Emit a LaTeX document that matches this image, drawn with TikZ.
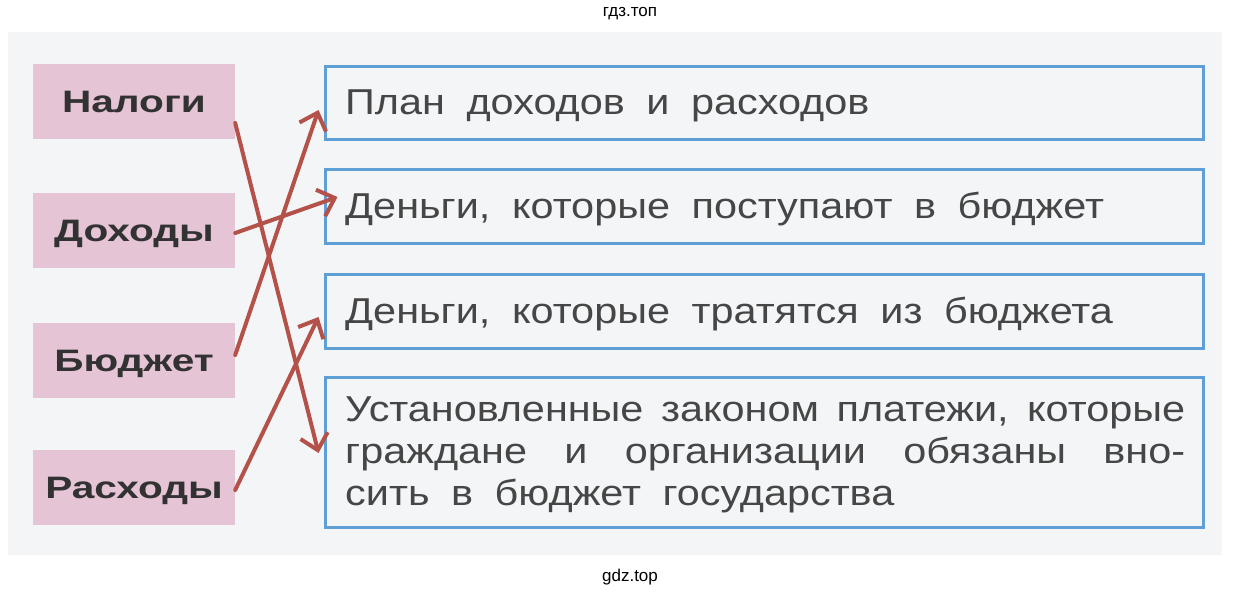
\documentclass[tikz,border=0pt]{standalone}
\usepackage{fontspec}
\setmainfont{Liberation Sans}
\newfontfamily\boxfont[FakeStretch=1.15]{Liberation Sans}
\newfontfamily\tagfont[FakeStretch=1.31]{Liberation Sans}
\newcommand\mywidesp{\spaceskip=0.6em plus 0.5em minus 0.3em\relax}
\usetikzlibrary{arrows.meta}
\definecolor{bgphoto}{RGB}{243,245,247}
\definecolor{pinkc}{RGB}{229,196,214}
\definecolor{tagtext}{RGB}{50,50,50}
\definecolor{blueb}{RGB}{96,158,214}
\definecolor{deftextc}{RGB}{70,70,70}
\definecolor{arrowc}{RGB}{180,82,74}
\begin{document}
\begin{tikzpicture}[x=1pt,y=-1pt,
  tagbox/.style={fill=pinkc, minimum width=202pt, minimum height=75pt, inner sep=0pt,
    text height=22pt, text depth=0pt,
    font=\tagfont\bfseries\fontsize{31}{36}\selectfont, text=tagtext},
  defbox/.style={draw=blueb, line width=3pt, minimum width=878pt, inner sep=0pt},
  deftext/.style={anchor=base west, inner sep=0pt, text=deftextc,
    font=\boxfont\fontsize{36}{40}\selectfont\mywidesp},
  wm/.style={font=\fontsize{17}{20}\selectfont, text=black, inner sep=0pt},
  link/.style={draw=arrowc, line width=4pt, line cap=round,
    -{Straight Barb[length=15pt,width=28pt]}}
]
\useasboundingbox (0,0) rectangle (1260,597);
\fill[white] (0,0) rectangle (1260,597);
\fill[bgphoto] (8,32) rectangle (1222,555);

\node[wm] (wtop) at (630,14) {гдз.топ};
\node[wm] (wbot) at (630,577) {gdz.top};

\node[tagbox] (nalogi) at (134,101.5) {Налоги};
\node[tagbox] (dohody) at (134,230.5) {Доходы};
\node[tagbox] (budget) at (134,360) {Бюджет};
\node[tagbox] (rashody) at (134,487.5) {Расходы};

\node[defbox, minimum height=73pt] (b1) at (764,102.5) {};
\node[defbox, minimum height=74pt] (b2) at (764,206) {};
\node[defbox, minimum height=74pt] (b3) at (764,311) {};
\node[defbox, minimum height=150pt] (b4) at (764,452) {};

\node[deftext] (t1) at (345,114.5) {План доходов и расходов};
\node[deftext] (t2) at (345,218.5) {Деньги, которые поступают в бюджет};
\node[deftext] (t3) at (345,323.5) {Деньги, которые тратятся из бюджета};
\node[deftext] (t4a) at (345,421) {\makebox[840pt][s]{Установленные законом платежи, которые}};
\node[deftext] (t4b) at (345,463) {\makebox[840pt][s]{граждане и организации обязаны вно-}};
\node[deftext] (t4c) at (345,505) {сить в бюджет государства};

\draw[link] ([yshift=-21.5pt]nalogi.east) -- ([xshift=-5pt,yshift=-1pt]b4.west);
\draw[link] ([yshift=-2.5pt]dohody.east) -- ([xshift=14pt,yshift=9pt]b2.west);
\draw[link] ([yshift=5pt]budget.east) -- ([xshift=-5pt,yshift=-7.5pt]b1.west);
\draw[link] ([yshift=-2.5pt]rashody.east) -- ([xshift=-5pt,yshift=-6pt]b3.west);
\end{tikzpicture}
\end{document}
